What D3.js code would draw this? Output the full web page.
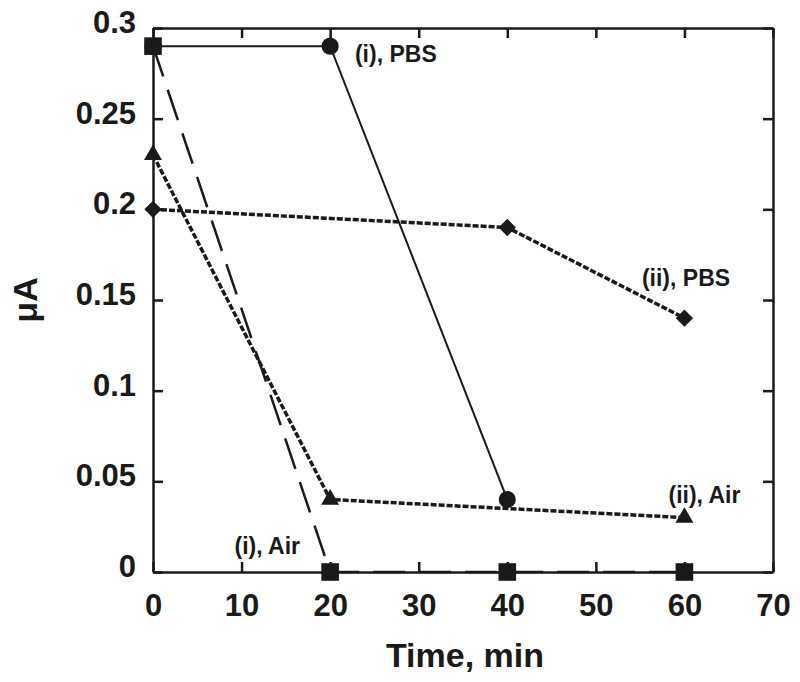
<!DOCTYPE html>
<html><head><meta charset="utf-8">
<script src="https://cdn.jsdelivr.net/npm/d3@7"></script>
<style>
body{margin:0;background:#fff;}
text{font-family:"Liberation Sans",Arial,Helvetica,sans-serif;font-weight:bold;fill:#1a1a1a;}
</style></head>
<body>
<svg id="chart" width="800" height="682"></svg>
<script>
const xTicks = [0,10,20,30,40,50,60,70];
const yTicks = [0,0.05,0.1,0.15,0.2,0.25,0.3];
const yTickLabels = ["0","0.05","0.1","0.15","0.2","0.25","0.3"];

const timeIPBS = [0,20,40];
const valIPBS  = [0.29,0.29,0.04];
const timeIAir = [0,20,40,60];
const valIAir  = [0.29,0,0,0];
const timeIIPBS = [0,40,60];
const valIIPBS  = [0.2,0.19,0.14];
const timeIIAir = [0,20,60];
const valIIAir  = [0.23,0.04,0.03];

const seriesLabels = [
  {text:"(i), PBS", x:22.8, y:0.281},
  {text:"(ii), PBS", x:55.2, y:0.1575},
  {text:"(ii), Air", x:58.2, y:0.0378},
  {text:"(i), Air", x:9.2, y:0.0098}
];

const svg = d3.select("#chart");
const L=153, R=773, T=28, B=572;
const x = d3.scaleLinear().domain([0,70]).range([L,R]);
const y = d3.scaleLinear().domain([0,0.3]).range([B,T]);
const col = "#1a1a1a";

const line = d3.line().x(d=>x(d[0])).y(d=>y(d[1]));
const zip = (a,b)=>a.map((v,i)=>[v,b[i]]);

const series = [
  {d:zip(timeIIPBS,valIIPBS), dash:"6,2", w:3.5, sym:"diamond"},
  {d:zip(timeIIAir,valIIAir), dash:"6,2", w:3.5, sym:"triangle"},
  {d:zip(timeIAir,valIAir), dash:"32,14", w:2.5, sym:"square"},
  {d:zip(timeIPBS,valIPBS), dash:null, w:2, sym:"circle"}
];

const g = svg.append("g");
series.forEach(s=>{
  g.append("path").attr("d",line(s.d)).attr("fill","none")
   .attr("stroke",col).attr("stroke-width",s.w)
   .attr("stroke-dasharray",s.dash);
});

const tickLen = 10;
const ax = (gen, tx, ty) => {
  const a = svg.append("g").attr("transform",`translate(${tx},${ty})`).call(gen);
  a.select(".domain").attr("stroke",col).attr("stroke-width",2.5);
  a.selectAll(".tick line").attr("stroke",col).attr("stroke-width",2.5);
  return a;
};
const axBottom = ax(d3.axisBottom(x).tickValues(xTicks).tickFormat(d3.format("d")).tickSizeInner(-tickLen).tickSizeOuter(0).tickPadding(22),0,B);
axBottom.selectAll("text").attr("font-size",31).attr("fill",col).style("font-family",'"Liberation Sans",Arial,sans-serif').style("font-weight","bold");
const axLeft = ax(d3.axisLeft(y).tickValues(yTicks).tickFormat((d,i)=>yTickLabels[i]).tickSizeInner(-tickLen).tickSizeOuter(0).tickPadding(17),L,0);
axLeft.selectAll("text").attr("font-size",31).attr("dy","0.15em").attr("fill",col).style("font-family",'"Liberation Sans",Arial,sans-serif').style("font-weight","bold");
const axTop = ax(d3.axisTop(x).tickValues(xTicks).tickFormat("").tickSizeInner(-tickLen).tickSizeOuter(0),0,T);
const axRight = ax(d3.axisRight(y).tickValues(yTicks).tickFormat("").tickSizeInner(-tickLen).tickSizeOuter(0),R,0);

const symMap = {
  circle: d3.symbol().type(d3.symbolCircle).size(230),
  square: d3.symbol().type(d3.symbolSquare).size(310),
  diamond: d3.symbol().type(d3.symbolSquare).size(150),
  triangle: d3.symbol().type(d3.symbolTriangle).size(140)
};
const mg = svg.append("g");
series.forEach(s=>{
  mg.selectAll(null).data(s.d).enter().append("path")
    .attr("d",symMap[s.sym]())
    .attr("transform",d=>`translate(${x(d[0])},${y(d[1])})${s.sym==="diamond"?" rotate(45)":""}`)
    .attr("fill",col);
});

svg.selectAll(".slab").data(seriesLabels).enter().append("text")
  .attr("x",d=>x(d.x)).attr("y",d=>y(d.y))
  .attr("font-size",23).text(d=>d.text);

svg.append("text").attr("x",(L+R)/2 + 2).attr("y",667).attr("text-anchor","middle")
  .attr("font-size",34).text("Time, min");
svg.append("text").attr("transform","translate(37,300) rotate(-90)").attr("text-anchor","middle")
  .attr("font-size",34).text("μA");
</script>
</body></html>
